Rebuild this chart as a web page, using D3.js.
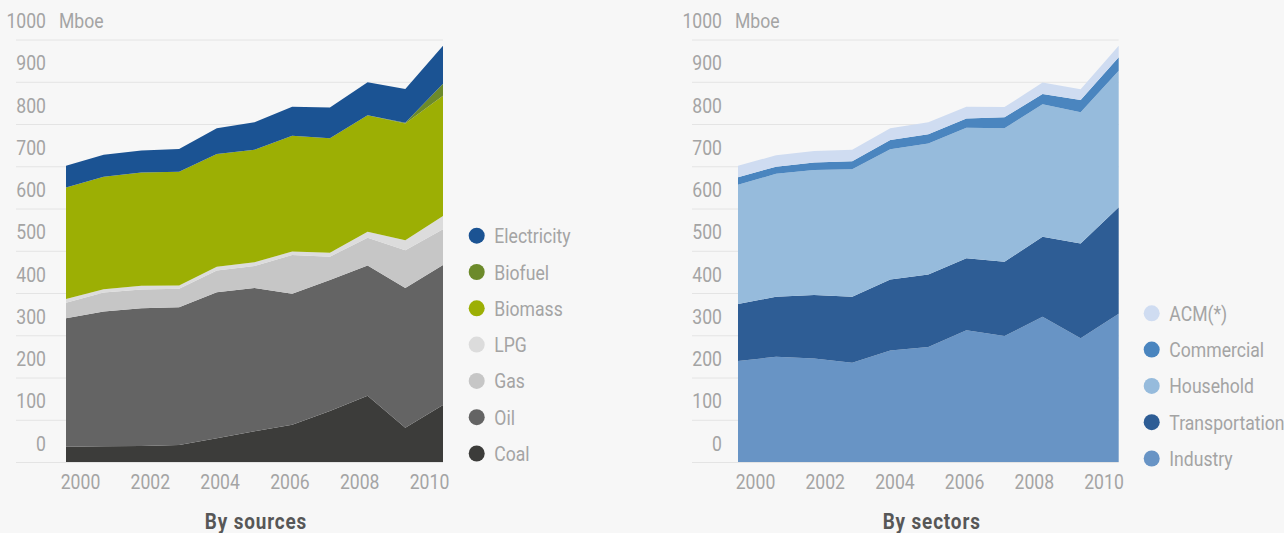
<!DOCTYPE html>
<html>
<head>
<meta charset="utf-8">
<script src="https://cdnjs.cloudflare.com/ajax/libs/d3/7.8.5/d3.min.js"></script>
<style>
  body { margin: 0; background: #f7f7f7; }
  svg { display: block; font-family: Roboto, "Liberation Sans", sans-serif; }
  .tick text, .lbl { fill: #a4a4a4; font-size: 20px; font-weight: 400; }
  .ttl { fill: #575757; font-size: 22px; font-weight: bold; letter-spacing: 1px; }
</style>
</head>
<body>
<svg id="chart" width="1284" height="533"></svg>
<script>
// years on the x axis
const years = [2000, 2001, 2002, 2003, 2004, 2005, 2006, 2007, 2008, 2009, 2010];
const yearTicks = [2000, 2002, 2004, 2006, 2008, 2010];
const yTicks = [0, 100, 200, 300, 400, 500, 600, 700, 800, 900, 1000];

// by sources (Mboe)
const coal        = [36, 37, 38, 40, 56, 73, 88, 121, 157, 81, 135];
const oil         = [304, 319, 326, 326, 346, 339, 310, 310, 308, 331, 331];
const gas         = [37, 45, 44, 44, 51, 52, 92, 55, 66, 89, 85];
const lpg         = [9, 8, 9, 8, 9, 9, 8, 9, 14, 24, 31];
const biomass     = [264, 266, 268, 269, 267, 266, 274, 271, 276, 276, 285];
const biofuel     = [0, 0, 0, 0, 0, 0, 0, 0, 0, 2, 28];
const electricity = [51, 52, 52, 54, 61, 65, 69, 73, 78, 80, 90];

// by sectors (Mboe)
const industry       = [239, 249, 245, 235, 264, 272, 312, 298, 344, 293, 351];
const transportation = [135, 142, 150, 156, 168, 172, 170, 176, 189, 224, 252];
const household      = [282, 291, 296, 302, 308, 310, 309, 316, 314, 311, 323];
const commercial     = [18, 17, 18, 19, 22, 22, 22, 26, 24, 29, 32];
const acm            = [27, 27, 27, 27, 28, 28, 28, 24, 27, 25, 27];

const svg = d3.select("#chart");
const SX = 0.88; // squeeze text horizontally to look condensed

// place a text at (x, y) and squeeze it
function narrow(sel, x, y, sx) {
  sel.attr("x", 0).attr("y", 0).attr("dy", 0)
    .attr("transform", (d, i, n) => {
      let px = typeof x === "function" ? x(d, i, n) : x;
      let py = typeof y === "function" ? y(d, i, n) : y;
      return `translate(${px},${py}) scale(${sx || SX},1)`;
    });
}

function drawPanel(opt) {
  let g = svg.append("g");
  let y = d3.scaleLinear().domain([0, 1000]).range([462, 39.5]);
  let x = d3.scaleLinear().domain([2000, 2010]).range(opt.dataRange);
  let xLab = d3.scaleLinear().domain([2000, 2010]).range(opt.labelRange);

  // grid + y labels
  let yAxis = g.append("g")
    .attr("transform", `translate(${opt.gridLeft},0)`)
    .call(d3.axisLeft(y).tickValues(yTicks).tickFormat(d3.format("d"))
      .tickSizeInner(-(opt.dataRange[1] - opt.gridLeft)).tickSizeOuter(0));
  yAxis.select(".domain").remove();
  yAxis.attr("font-size", null).attr("font-family", null);
  yAxis.selectAll(".tick line").attr("stroke", "#e4e4e4");
  narrow(yAxis.selectAll(".tick text"), opt.labelRight - opt.gridLeft, -12);

  narrow(g.append("text").attr("class", "lbl").text("Mboe"), opt.labelRight + 13, y(1000) - 12);

  // stacked areas
  let table = years.map((yr, i) => {
    let row = { year: yr };
    opt.series.forEach(s => row[s.name] = s.values[i]);
    return row;
  });
  let stack = d3.stack().keys(opt.series.map(s => s.name));
  let layers = stack(table);
  let area = d3.area()
    .x(d => x(d.data.year))
    .y0(d => y(d[0]))
    .y1(d => y(d[1]));
  g.selectAll(".layer").data(layers).join("path")
    .attr("fill", (d, i) => opt.series[i].color)
    .attr("d", area);

  // x labels
  let xAxis = g.append("g")
    .attr("transform", "translate(0,462)")
    .call(d3.axisBottom(xLab).tickValues(yearTicks).tickFormat(d3.format("d")).tickSize(0));
  xAxis.select(".domain").remove();
  xAxis.attr("font-size", null).attr("font-family", null);
  narrow(xAxis.selectAll(".tick text"), 0, 27);

  // legend (top series first)
  let legend = g.append("g")
    .attr("transform", `translate(${opt.legendX},${opt.legendY})`);
  let items = legend.selectAll("g").data(opt.series.slice().reverse()).join("g")
    .attr("transform", (d, i) => `translate(0,${i * 36.3})`);
  items.append("circle").attr("r", 8).attr("fill", d => d.color);
  narrow(items.append("text").attr("class", "lbl").text(d => d.name), 17.6, 7.5);

  let title = g.append("text").attr("class", "ttl")
    .attr("text-anchor", "middle")
    .text(opt.title);
  narrow(title, opt.titleX, 529, 0.86);
}

drawPanel({
  title: "By sources",
  titleX: 256,
  gridLeft: 16,
  labelRight: 46,
  dataRange: [66, 443],
  labelRange: [80, 429],
  legendX: 476.7,
  legendY: 235.7,
  series: [
    { name: "Coal", values: coal, color: "#3c3c3a" },
    { name: "Oil", values: oil, color: "#646464" },
    { name: "Gas", values: gas, color: "#c6c6c6" },
    { name: "LPG", values: lpg, color: "#dcdcdc" },
    { name: "Biomass", values: biomass, color: "#9caf04" },
    { name: "Biofuel", values: biofuel, color: "#6c8a2a" },
    { name: "Electricity", values: electricity, color: "#1b5393" }
  ]
});

drawPanel({
  title: "By sectors",
  titleX: 931.7,
  gridLeft: 692,
  labelRight: 722,
  dataRange: [738, 1118.7],
  labelRange: [755, 1103.5],
  legendX: 1151.7,
  legendY: 313.3,
  series: [
    { name: "Industry", values: industry, color: "#6894c5" },
    { name: "Transportation", values: transportation, color: "#2e5d95" },
    { name: "Household", values: household, color: "#96bbdc" },
    { name: "Commercial", values: commercial, color: "#4a85bf" },
    { name: "ACM(*)", values: acm, color: "#cfdcf1" }
  ]
});
</script>
</body>
</html>
